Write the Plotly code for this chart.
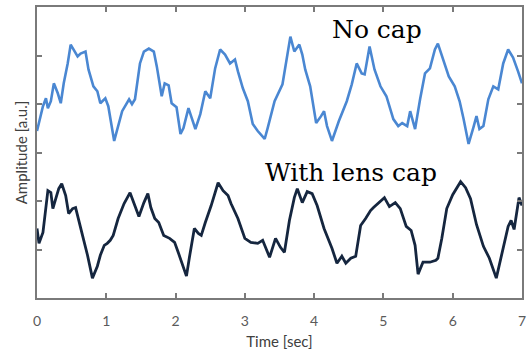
import plotly.graph_objects as go

# Blue series: "No cap"
t_nocap = [0.0, 0.086, 0.129, 0.157, 0.2, 0.243, 0.3, 0.343, 0.386, 0.443, 0.486, 0.529, 0.586, 0.629, 0.7,
           0.743, 0.814, 0.871, 0.914, 0.986, 1.029, 1.114, 1.157, 1.229, 1.329, 1.371, 1.414, 1.486, 1.543,
           1.614, 1.686, 1.729, 1.8, 1.843, 1.9, 1.943, 2.014, 2.071, 2.114, 2.186, 2.229, 2.286, 2.357, 2.429,
           2.5, 2.571, 2.643, 2.714, 2.786, 2.857, 2.9, 2.971, 3.043, 3.114, 3.186, 3.286, 3.329, 3.429, 3.543,
           3.614, 3.657, 3.714, 3.786, 3.829, 3.871, 3.943, 4.029, 4.1, 4.143, 4.186, 4.257, 4.357, 4.471,
           4.543, 4.614, 4.686, 4.729, 4.8, 4.871, 4.957, 5.043, 5.143, 5.214, 5.271, 5.343, 5.386, 5.457,
           5.529, 5.6, 5.671, 5.743, 5.786, 5.857, 5.943, 6.029, 6.1, 6.157, 6.229, 6.3, 6.343, 6.386, 6.443,
           6.514, 6.586, 6.657, 6.729, 6.8, 6.871, 6.943, 7.0]
a_nocap = [3.443, 3.955, 4.119, 3.914, 4.057, 4.426, 4.221, 4.016, 4.426, 4.836, 5.225, 5.123, 4.980, 5.041, 5.082,
           4.713, 4.365, 4.262, 4.016, 4.119, 3.955, 3.238, 3.484, 3.852, 4.098, 3.996, 4.098, 4.836, 5.082,
           5.143, 5.082, 4.775, 4.160, 4.426, 4.385, 4.016, 3.934, 3.381, 3.504, 3.914, 3.730, 3.484, 3.791, 4.262,
           4.119, 4.734, 5.123, 5.020, 4.836, 4.918, 4.672, 4.324, 4.057, 3.586, 3.443, 3.279, 3.504, 4.057, 4.406,
           5.082, 5.389, 5.082, 5.225, 5.020, 4.713, 4.365, 3.607, 3.750, 3.852, 3.545, 3.238, 3.648, 4.057,
           4.406, 4.836, 4.631, 4.611, 5.184, 4.713, 4.365, 4.160, 3.689, 3.545, 3.607, 3.545, 3.852, 3.484,
           4.098, 4.631, 4.734, 5.123, 5.246, 4.918, 4.570, 4.365, 4.057, 3.689, 3.176, 3.525, 3.750, 3.484, 3.545,
           4.098, 4.365, 4.303, 4.836, 5.123, 4.959, 4.672, 4.426]

# Dark series: "With lens cap"
t_cap = [0.0, 0.029, 0.086, 0.157, 0.2, 0.229, 0.271, 0.314, 0.357, 0.414, 0.457, 0.514, 0.557, 0.6, 0.657,
         0.729, 0.8, 0.871, 0.914, 0.971, 1.014, 1.057, 1.1, 1.171, 1.257, 1.343, 1.4, 1.471, 1.543, 1.6,
         1.643, 1.7, 1.757, 1.829, 1.914, 1.986, 2.043, 2.114, 2.157, 2.2, 2.271, 2.329, 2.371, 2.429, 2.514,
         2.614, 2.686, 2.757, 2.8, 2.9, 3.0, 3.086, 3.186, 3.257, 3.357, 3.443, 3.514, 3.571, 3.643, 3.714,
         3.757, 3.829, 3.9, 3.971, 4.043, 4.143, 4.257, 4.329, 4.4, 4.457, 4.529, 4.6, 4.671, 4.743, 4.814,
         4.857, 4.943, 5.014, 5.086, 5.171, 5.243, 5.329, 5.4, 5.457, 5.5, 5.571, 5.671, 5.757, 5.786, 5.843,
         5.914, 6.0, 6.114, 6.186, 6.257, 6.343, 6.443, 6.529, 6.629, 6.7, 6.8, 6.843, 6.886, 6.957, 7.0]
a_cap = [1.434, 1.127, 1.352, 2.213, 2.172, 1.844, 2.049, 2.254, 2.357, 2.111, 1.742, 1.844, 1.865, 1.639, 1.291,
         0.881, 0.410, 0.656, 0.881, 1.086, 1.127, 1.189, 1.291, 1.639, 1.947, 2.172, 1.967, 1.680, 1.967, 2.152,
         1.865, 1.639, 1.557, 1.291, 1.230, 1.148, 0.922, 0.615, 0.451, 0.840, 1.434, 1.332, 1.291, 1.557, 1.906,
         2.377, 2.213, 2.111, 1.947, 1.639, 1.230, 1.148, 1.127, 1.189, 0.840, 1.230, 1.045, 0.943, 1.598, 2.070,
         2.254, 1.967, 2.193, 2.152, 1.906, 1.434, 1.025, 0.717, 0.861, 0.717, 0.820, 0.861, 1.496, 1.639, 1.803,
         1.865, 1.988, 2.070, 1.885, 1.967, 1.844, 1.475, 1.393, 1.086, 0.492, 0.738, 0.738, 0.779, 0.820, 1.230,
         1.844, 2.131, 2.398, 2.275, 2.049, 1.516, 1.066, 0.820, 0.410, 0.840, 1.475, 1.598, 1.414, 2.070, 1.906]

x_ticks = [0, 1, 2, 3, 4, 5, 6, 7]
y_ticks = [1, 2, 3, 4, 5]

fig = go.Figure()
fig.add_trace(go.Scatter(x=t_nocap, y=a_nocap, mode="lines",
                         line=dict(color="#4a87d2", width=2.6), showlegend=False))
fig.add_trace(go.Scatter(x=t_cap, y=a_cap, mode="lines",
                         line=dict(color="#15263f", width=2.8), showlegend=False))

axis_color = "#7a7a7a"
fig.update_xaxes(range=[0, 7], tickvals=x_ticks, ticktext=[str(v) for v in x_ticks],
                 showline=True, linecolor=axis_color, linewidth=2, mirror="ticks",
                 ticks="inside", ticklen=5, tickwidth=1.5, tickcolor=axis_color,
                 showgrid=False, zeroline=False, ticklabelstandoff=9,
                 tickfont=dict(family="Lato", size=14, color="#5a5a5a"),
                 title=dict(text="Time [sec]", font=dict(family="Lato", size=15, color="#404040"), standoff=9))
fig.update_yaxes(range=[0, 6], tickvals=y_ticks, showticklabels=False,
                 showline=True, linecolor=axis_color, linewidth=2, mirror="ticks",
                 ticks="inside", ticklen=5, tickwidth=1.5, tickcolor=axis_color,
                 showgrid=False, zeroline=False,
                 title=dict(text="Amplitude [a.u.]", font=dict(family="Lato", size=15, color="#404040"), standoff=4))

fig.add_annotation(x=4.9, y=5.53, text="No cap", showarrow=False,
                   font=dict(family="DejaVu Serif", size=25, color="black"))
fig.add_annotation(x=4.53, y=2.58, text="With lens cap", showarrow=False,
                   font=dict(family="DejaVu Serif", size=25, color="black"))

fig.update_layout(width=531, height=353, margin=dict(l=37, r=5, t=5, b=55),
                  plot_bgcolor="white", paper_bgcolor="white")

fig.write_html("out.html")
